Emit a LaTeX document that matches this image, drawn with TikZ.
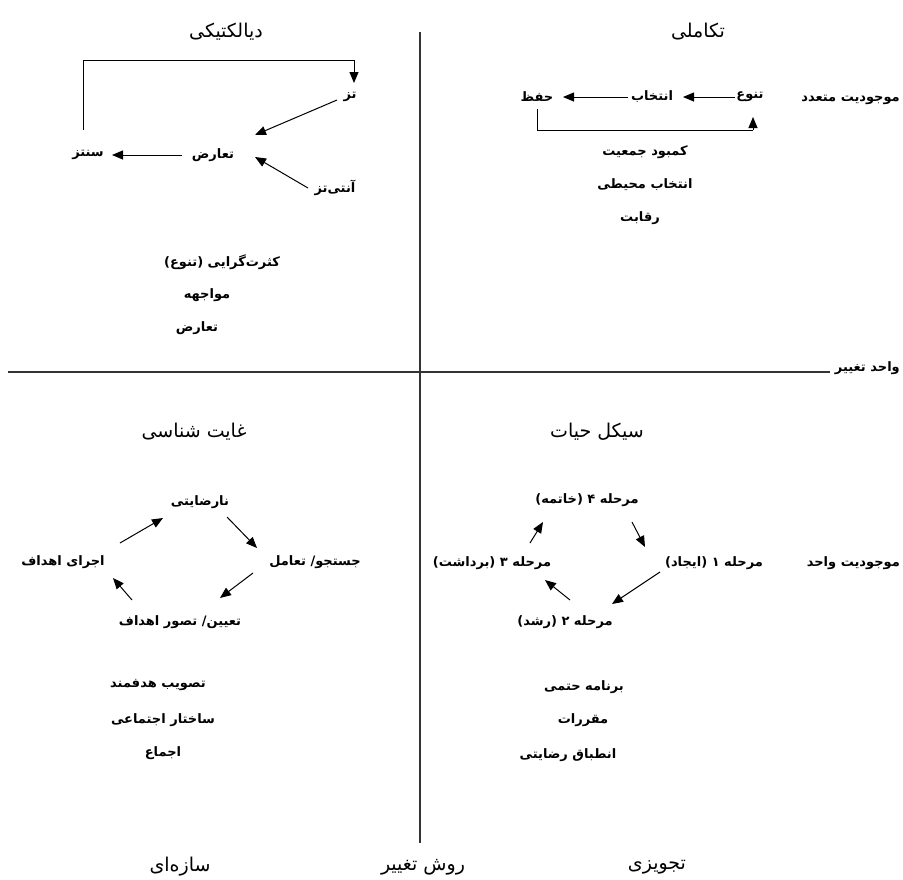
\documentclass[tikz,border=0pt]{standalone}
\usepackage{fontspec}
\usetikzlibrary{arrows.meta,calc}
\TeXXeTstate=1
\newfontfamily\arabicfont[Script=Arabic]{DejaVu Sans}
\newcommand{\fatext}[1]{\arabicfont\beginR #1\endR}
\begin{document}
\begin{tikzpicture}[x=1pt,y=-1pt,
  lbl/.style={font=\arabicfont\bfseries\fontsize{13}{15}\selectfont, inner sep=1pt},
  ttl/.style={font=\arabicfont\fontsize{19}{22}\selectfont, inner sep=1pt},
  arr/.style={-{Triangle[length=11pt,width=9pt]}, line width=1pt},
  axis/.style={line width=1.1pt, black!80}]
\useasboundingbox (0,0) rectangle (903,879);
% axes
\node[lbl, anchor=east] (vahed) at (901,368) {\fatext{واحد تغییر}};
\coordinate (hl) at (8,372);
\coordinate (vt) at (420,32);
\coordinate (vb) at (420,843);
\draw[axis] (hl) -- ([xshift=-4pt]vahed.west |- hl);
\draw[axis] (vt) -- (vb);
\node[ttl] (ravesh) at (423,867) {\fatext{روش تغییر}};
\node[ttl] (saze) at (180,867) {\fatext{سازه‌ای}};
\node[ttl] (tajvizi) at (657,867) {\fatext{تجویزی}};
% top-left: dialectic
\node[ttl] (t1) at (226,32) {\fatext{دیالکتیکی}};
\node[lbl] (taz) at (350,97) {\fatext{تز}};
\node[lbl] (taraz) at (213,155) {\fatext{تعارض}};
\node[lbl] (sentez) at (88,155) {\fatext{سنتز}};
\node[lbl] (anti) at (335,188) {\fatext{آنتی‌تز}};
\draw[line width=1pt] ($(sentez)+(-5,-25)$) |- ($(taz)+(4,-37)$);
\draw[arr] ($(taz)+(4,-37)$) -- ($(taz)+(4,-14)$);
\draw[arr] ($(taraz)+(-31,0)$) -- ($(sentez)+(24,0)$);
\draw[arr] ($(taz)+(-13,3)$) -- ($(taraz)+(42,-20)$);
\draw[arr] ($(anti)+(-27,0)$) -- ($(taraz)+(42,2)$);
\node[lbl] (k1) at (222,262) {\fatext{کثرت‌گرایی (تنوع)}};
\node[lbl] (k2) at (207,295) {\fatext{مواجهه}};
\node[lbl] (k3) at (197,328) {\fatext{تعارض}};
% top-right: evolutionary
\node[ttl] (t2) at (698,32) {\fatext{تکاملی}};
\node[lbl, anchor=east] (mota) at (901,100) {\fatext{موجودیت متعدد}};
\node[lbl] (tanavo) at (750,97) {\fatext{تنوع}};
\node[lbl] (entekhab) at (652,97) {\fatext{انتخاب}};
\node[lbl] (hefz) at (537,97) {\fatext{حفظ}};
\draw[arr] ($(tanavo)+(-15,0)$) -- ($(entekhab)+(31,0)$);
\draw[arr] ($(entekhab)+(-24,0)$) -- ($(hefz)+(26,0)$);
\draw[line width=1pt] ($(hefz)+(0,12)$) |- ($(tanavo)+(3,33)$);
\draw[arr] ($(tanavo)+(3,33)$) -- ($(tanavo)+(3,20)$);
\node[lbl] (e1) at (645,152) {\fatext{کمبود جمعیت}};
\node[lbl] (e2) at (645,185) {\fatext{انتخاب محیطی}};
\node[lbl] (e3) at (640,218) {\fatext{رقابت}};
% bottom-left: teleological
\node[ttl] (t3) at (194,432) {\fatext{غایت شناسی}};
\node[lbl] (nara) at (200,502) {\fatext{نارضایتی}};
\node[lbl] (jost) at (315,562) {\fatext{جستجو/ تعامل}};
\node[lbl] (ejra) at (63,562) {\fatext{اجرای اهداف}};
\node[lbl] (tayin) at (180,622) {\fatext{تعیین/ تصور اهداف}};
\draw[arr] ($(ejra)+(57,-19)$) -- ($(nara)+(-37,16)$);
\draw[arr] ($(nara)+(27,15)$) -- ($(jost)+(-58,-14)$);
\draw[arr] ($(jost)+(-62,11)$) -- ($(tayin)+(40,-24)$);
\draw[arr] ($(tayin)+(-48,-22)$) -- ($(ejra)+(50,16)$);
\node[lbl] (g1) at (158,685) {\fatext{تصویب هدفمند}};
\node[lbl] (g2) at (163,720) {\fatext{ساختار اجتماعی}};
\node[lbl] (g3) at (163,753) {\fatext{اجماع}};
% bottom-right: life cycle
\node[ttl] (t4) at (597,432) {\fatext{سیکل حیات}};
\node[lbl, anchor=east] (vahedm) at (901,563) {\fatext{موجودیت واحد}};
\node[lbl] (m4) at (587,500) {\fatext{مرحله ۴ (خاتمه)}};
\node[lbl] (m1) at (714,563) {\fatext{مرحله ۱ (ایجاد)}};
\node[lbl] (m3) at (492,563) {\fatext{مرحله ۳ (برداشت)}};
\node[lbl] (m2) at (565,622) {\fatext{مرحله ۲ (رشد)}};
\draw[arr] ($(m3)+(38,-20)$) -- ($(m4)+(-44,22)$);
\draw[arr] ($(m4)+(45,22)$) -- ($(m1)+(-69,-16)$);
\draw[arr] ($(m1)+(-54,9)$) -- ($(m2)+(47,-18)$);
\draw[arr] ($(m2)+(5,-22)$) -- ($(m3)+(53,17)$);
\node[lbl] (s1) at (584,687) {\fatext{برنامه حتمی}};
\node[lbl] (s2) at (583,720) {\fatext{مقررات}};
\node[lbl] (s3) at (568,755) {\fatext{انطباق رضایتی}};
\end{tikzpicture}
\end{document}
